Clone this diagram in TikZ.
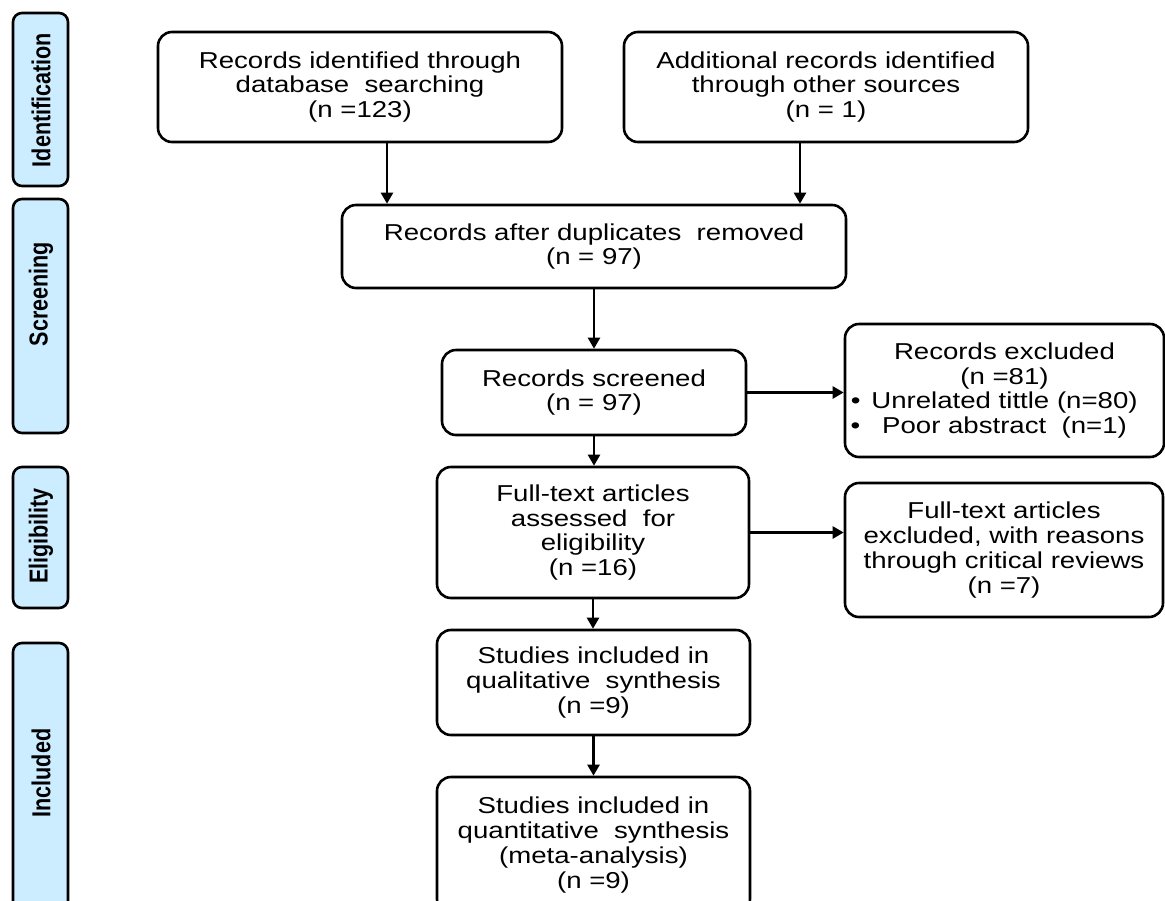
\documentclass[tikz,border=0pt]{standalone}
\usepackage{fontspec}
\setmainfont[FakeStretch=1.2]{Liberation Sans}
\newfontfamily\sidefont[FakeStretch=0.83]{Liberation Sans}
\usetikzlibrary{arrows.meta}
\definecolor{barblue}{RGB}{204,236,255}
\begin{document}
\begin{tikzpicture}[x=1pt,y=1pt,
  box/.style={draw=black, line width=2.6pt, rounded corners=14pt, fill=white, inner sep=0pt, align=center, font=\fontsize{23}{24.8}\selectfont},
  bar/.style={draw=black, line width=2.6pt, rounded corners=9pt, fill=barblue, inner sep=0pt, minimum width=55, rotate=90},
  side/.style={font=\sidefont\fontsize{26}{30}\selectfont\bfseries, rotate=90, inner sep=0pt},
  arr/.style={line width=2.4pt, -{Triangle[length=11pt,width=12pt]}}]
\useasboundingbox (0,0) rectangle (1165,-900);
\clip (0,0) rectangle (1165,-900);
% phase bars
\node[bar, minimum width=173, minimum height=55] (bident) at (40.5,-99.5) {};
\node[bar, minimum width=234, minimum height=55] (bscreen) at (40.5,-316) {};
\node[bar, minimum width=141, minimum height=55] (belig) at (40.5,-537.5) {};
\node[bar, minimum width=277, minimum height=55] (bincl) at (40.5,-781.5) {};
\node[side] (lident) at (41,-100) {Identification};
\node[side] (lscreen) at (41,-294) {Screening};
\node[side] (lelig) at (41,-536) {Eligibility};
\node[side] (lincl) at (41,-773) {Included};
% boxes
\node[box, minimum width=404, minimum height=110] (ident) at (360,-87)
  {Records identified through\\database\ \ searching\\(n =123)};
\node[box, minimum width=404, minimum height=110] (other) at (826,-87)
  {Additional records identified\\through other sources\\(n = 1)};
\node[box, minimum width=504, minimum height=83] (dup) at (594,-246.5)
  {Records after duplicates\ \ removed\\(n = 97)};
\node[box, minimum width=304, minimum height=85] (screened) at (594,-392.5)
  {Records screened\\(n = 97)};
\node[box, minimum width=319, minimum height=133] (excl) at (1004.5,-390.5)
  {Records excluded\\(n =81)\\\llap{\textbullet\hspace{11pt}}Unrelated tittle (n=80)\\\llap{\textbullet\hspace{22pt}}Poor abstract\ \ (n=1)};
\node[box, minimum width=312, minimum height=131] (full) at (593,-532.5)
  {Full-text articles\\assessed\ \ for\\eligibility\\(n =16)};
\node[box, minimum width=318, minimum height=134] (exfull) at (1004,-550)
  {Full-text articles\\excluded, with reasons\\through critical reviews\\(n =7)};
\node[box, minimum width=313, minimum height=105] (qual) at (593.5,-682.5)
  {Studies included in\\qualitative\ \ synthesis\\(n =9)};
\node[box, minimum width=313, minimum height=136] (quant) at (593.5,-845)
  {Studies included in\\quantitative\ \ synthesis\\(meta-analysis)\\(n =9)};
% arrows
\draw[arr] ([xshift=27pt]ident.south) -- ([xshift=27pt]ident.south |- dup.north);
\draw[arr] ([xshift=-26pt]other.south) -- ([xshift=-26pt]other.south |- dup.north);
\draw[arr] (dup.south) -- (dup.south |- screened.north);
\draw[arr] (screened.east) -- (screened.east -| excl.west);
\draw[arr] (screened.south) -- (screened.south |- full.north);
\draw[arr] (full.east) -- (full.east -| exfull.west);
\draw[arr] (full.south) -- (full.south |- qual.north);
\draw[arr] (qual.south) -- (qual.south |- quant.north);
\end{tikzpicture}
\end{document}
